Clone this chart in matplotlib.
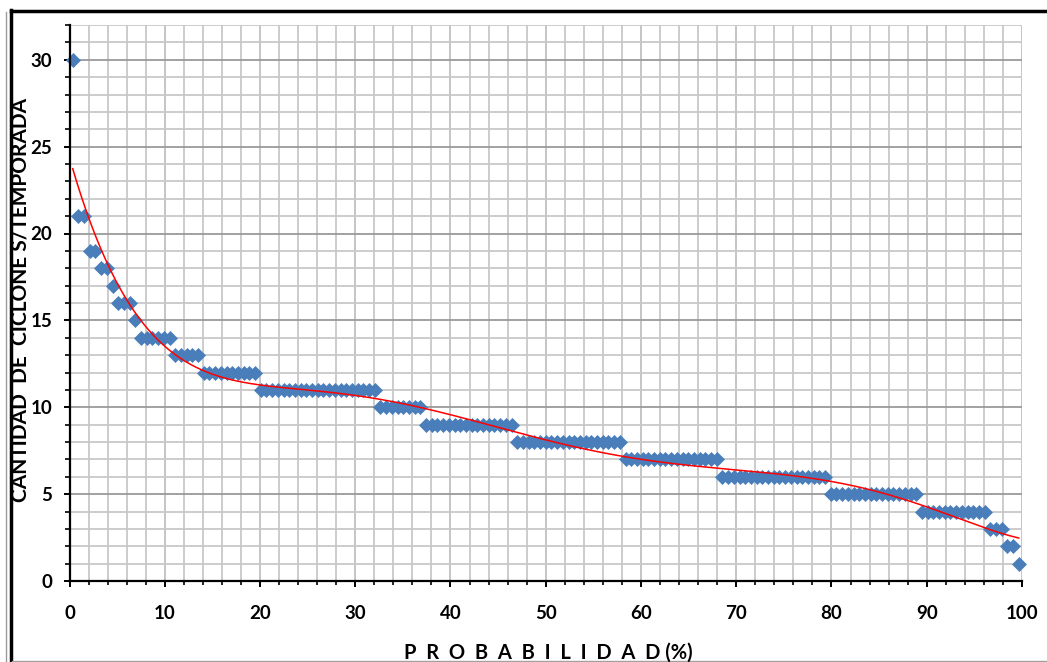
import numpy as np
import matplotlib
matplotlib.use("Agg")
import matplotlib.pyplot as plt
from matplotlib.lines import Line2D
from matplotlib.ticker import MultipleLocator

# Cyclones per season (distinct levels) and number of seasons at each level, sorted descending
levels = [30, 21, 19, 18, 17, 16, 15, 14, 13, 12, 11, 10, 9, 8, 7, 6, 5, 4, 3, 2, 1]
counts = [1, 2, 2, 2, 1, 3, 1, 6, 5, 10, 21, 8, 16, 19, 17, 19, 16, 12, 3, 2, 1]

x_ticks = [0, 10, 20, 30, 40, 50, 60, 70, 80, 90, 100]
y_ticks = [0, 5, 10, 15, 20, 25, 30]

y_label = "CANTIDAD  DE  CICLONE S/TEMPORADA"
x_label = "P  R  O  B  A  B  I  L  I  D  A  D (%)"

# empirical exceedance probability (Gringorten plotting position)
y_vals = np.repeat(levels, counts).astype(float)
n = len(y_vals)
rank = np.arange(1, n + 1)
x_vals = (rank - 0.44) / (n + 0.12) * 100.0

# polynomial trend line (Excel-style order 6)
coef = np.polyfit(x_vals, y_vals, 6)
x_tr = np.linspace(x_vals[0], x_vals[-1], 400)
y_tr = np.polyval(coef, x_tr)

plt.rcParams['font.family'] = ['Lato', 'DejaVu Sans']
plt.rcParams['font.weight'] = 'bold'
W, H = 1047, 662
fig = plt.figure(figsize=(W / 100, H / 100), dpi=100)
fig.patch.set_facecolor('white')
ax = fig.add_axes([69.5 / W, 1 - 581 / H, (1022 - 69.5) / W, (581 - 25) / H])

ax.set_xlim(0, 100)
ax.set_ylim(0, 32)
ax.xaxis.set_minor_locator(MultipleLocator(2))
ax.yaxis.set_minor_locator(MultipleLocator(1))
ax.set_xticks(x_ticks)
ax.set_xticklabels([str(v) for v in x_ticks], fontweight='bold', fontsize=13.5)
ax.set_yticks(y_ticks)
ax.set_yticklabels([str(v) for v in y_ticks], fontweight='bold', fontsize=13.5)

ax.grid(which='minor', color='#c8c8c8', linewidth=1.3)
ax.grid(which='major', axis='x', color='#c0c0c0', linewidth=1.3)
ax.grid(which='major', axis='y', color='#9a9a9a', linewidth=1.3)
ax.set_axisbelow(True)

for s in ['top', 'right']:
    ax.spines[s].set_visible(False)
for s in ['left', 'bottom']:
    ax.spines[s].set_color('black')
    ax.spines[s].set_linewidth(1.6)
    ax.spines[s].set_zorder(5)

ax.tick_params(which='major', direction='out', length=4.5, width=1.4, color='black')
ax.tick_params(axis='x', which='major', pad=13)
ax.tick_params(axis='y', which='major', pad=8)
ax.tick_params(axis='x', which='minor', direction='out', length=2.8, width=1.2, color='black')
ax.tick_params(axis='y', which='minor', direction='out', length=3.5, width=1.2, color='black')

ax.plot(x_vals, y_vals, linestyle='none', marker='D', markersize=7.2,
        markerfacecolor='#4a7ebb', markeredgecolor='#4a7ebb', markeredgewidth=0.5,
        zorder=3, clip_on=False)
ax.plot(x_tr, y_tr, color='#ff0000', linewidth=1.1, zorder=4)

fig.text(21 / W, 1 - 300 / H, y_label, rotation=90, ha='center', va='center',
         fontsize=15, fontweight='bold')
fig.text(548 / W, 1 - 653 / H, x_label, ha='center', va='center',
         fontsize=14.5, fontweight='bold')

# outer frame lines
fig.add_artist(Line2D([11 / W, 11 / W], [0, 1 - 10 / H], color='black', linewidth=2.5,
                      transform=fig.transFigure))
fig.add_artist(Line2D([11 / W, 1], [1 - 10.5 / H, 1 - 10.5 / H], color='black', linewidth=2.5,
                      transform=fig.transFigure))
fig.add_artist(Line2D([5.5 / W, 5.5 / W], [0, 1 - 12 / H], color='#9a9a9a', linewidth=1.0,
                      transform=fig.transFigure))
fig.add_artist(Line2D([12 / W, 1], [1 - 660.5 / H, 1 - 660.5 / H], color='#a0a0a0', linewidth=1.0,
                      transform=fig.transFigure))

fig.savefig('out.png', dpi=100, facecolor='white')
